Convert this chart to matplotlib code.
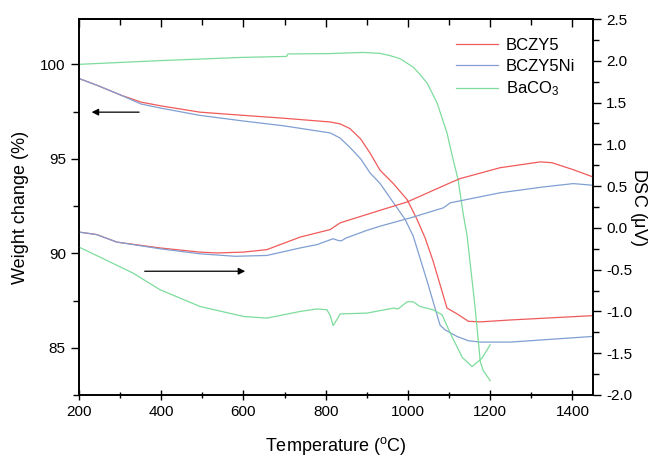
import matplotlib
matplotlib.use("Agg")
import matplotlib.pyplot as plt
from matplotlib.ticker import MultipleLocator

plt.rcParams["font.family"] = ["Liberation Sans", "DejaVu Sans"]
plt.rcParams["mathtext.default"] = "regular"

# TGA (weight change, %) - left axis
red_tga_t = [200, 243, 302, 351, 400, 494, 600, 697, 811, 835, 859, 885, 908, 932,
             964, 998, 1022, 1042, 1061, 1095, 1119, 1147, 1176, 1249, 1450]
red_tga_w = [99.25, 98.9, 98.37, 98.0, 97.8, 97.47, 97.3, 97.15, 96.95, 96.85, 96.6,
             96.05, 95.3, 94.4, 93.7, 92.84, 91.8, 90.8, 89.6, 87.1, 86.8, 86.4,
             86.37, 86.47, 86.7]

blue_tga_t = [200, 243, 302, 351, 400, 494, 600, 697, 811, 835, 859, 885, 908, 932,
              964, 993, 1013, 1047, 1078, 1090, 1119, 1147, 1176, 1249, 1450]
blue_tga_w = [99.25, 98.9, 98.37, 97.9, 97.68, 97.3, 97.0, 96.75, 96.37, 96.1, 95.6,
              95.0, 94.25, 93.7, 92.7, 91.8, 90.9, 88.5, 86.2, 85.95, 85.6, 85.37,
              85.3, 85.3, 85.6]

green_tga_t = [200, 300, 400, 600, 705, 708, 811, 860, 891, 932, 955, 981, 1013, 1030,
               1047, 1071, 1095, 1110, 1122, 1134, 1144, 1163, 1176, 1183, 1200]
green_tga_w = [100.0, 100.1, 100.2, 100.37, 100.42, 100.55, 100.57, 100.61, 100.63,
               100.58, 100.47, 100.3, 99.85, 99.45, 99.0, 97.95, 96.37, 94.95, 93.9,
               92.15, 90.9, 87.2, 84.26, 83.8, 83.26]

# DSC (uV) - right axis
red_dsc_t = [200, 243, 292, 397, 494, 536, 600, 657, 738, 811, 835, 932, 998, 1030,
             1103, 1127, 1224, 1322, 1350, 1400, 1450]
red_dsc_v = [-0.05, -0.08, -0.17, -0.24, -0.29, -0.30, -0.29, -0.26, -0.11, -0.02,
             0.06, 0.21, 0.31, 0.38, 0.54, 0.59, 0.72, 0.79, 0.78, 0.70, 0.61]

blue_dsc_t = [200, 243, 292, 397, 494, 580, 657, 738, 779, 818, 830, 838, 850, 900,
              932, 1013, 1086, 1103, 1224, 1329, 1402, 1450]
blue_dsc_v = [-0.05, -0.08, -0.17, -0.25, -0.31, -0.34, -0.33, -0.24, -0.20, -0.13,
              -0.15, -0.155, -0.12, -0.03, 0.02, 0.13, 0.24, 0.30, 0.42, 0.49, 0.53, 0.51]

green_dsc_t = [200, 251, 331, 397, 494, 600, 657, 738, 779, 803, 811, 818, 827, 835,
               900, 965, 976, 998, 1013, 1029, 1061, 1083, 1103, 1132, 1156, 1168,
               1180, 1200]
green_dsc_v = [-0.23, -0.35, -0.54, -0.74, -0.94, -1.06, -1.08, -1.0, -0.97, -0.98,
               -1.05, -1.17, -1.1, -1.03, -1.02, -0.96, -0.97, -0.885, -0.885, -0.94,
               -0.98, -1.04, -1.26, -1.55, -1.66, -1.61, -1.56, -1.40]

red = "#f05a5a"
blue = "#809fd2"
green = "#7ddc9c"
lw = 0.9

fig = plt.figure(figsize=(6.55, 4.57), dpi=100)
ax = fig.add_axes([0.1206, 0.1357, 0.7847, 0.8227])
ax2 = ax.twinx()

l1, = ax.plot(red_tga_t, red_tga_w, color=red, lw=lw)
l2, = ax.plot(blue_tga_t, blue_tga_w, color=blue, lw=lw)
l3, = ax.plot(green_tga_t, green_tga_w, color=green, lw=lw)

ax2.plot(red_dsc_t, red_dsc_v, color=red, lw=lw)
ax2.plot(blue_dsc_t, blue_dsc_v, color=blue, lw=lw)
ax2.plot(green_dsc_t, green_dsc_v, color=green, lw=lw)

ax.set_xlim(200, 1450)
ax.set_ylim(82.5, 102.4)
ax2.set_ylim(-2.0, 2.5)

ax.xaxis.set_major_locator(MultipleLocator(200))
ax.xaxis.set_minor_locator(MultipleLocator(100))
ax.yaxis.set_major_locator(MultipleLocator(5))
ax.yaxis.set_minor_locator(MultipleLocator(2.5))
ax2.yaxis.set_major_locator(MultipleLocator(0.5))
ax2.yaxis.set_minor_locator(MultipleLocator(0.25))
ax2.yaxis.set_major_formatter(plt.FormatStrFormatter("%.1f"))

ax.tick_params(axis="x", which="major", direction="inout", length=7, width=1, labelsize=11)
ax.tick_params(axis="x", which="minor", direction="inout", length=5, width=1)
ax.tick_params(axis="y", which="major", direction="out", length=6, width=1, labelsize=11)
ax.tick_params(axis="y", which="minor", direction="out", length=4, width=1)
ax2.tick_params(axis="y", which="major", direction="out", length=6, width=1, labelsize=11)
ax2.tick_params(axis="y", which="minor", direction="out", length=4, width=1)

top = ax.secondary_xaxis("top")
top.xaxis.set_major_locator(MultipleLocator(200))
top.xaxis.set_minor_locator(MultipleLocator(100))
top.tick_params(which="major", direction="in", length=6, width=1, labeltop=False)
top.tick_params(which="minor", direction="in", length=4, width=1)

for a in (ax, ax2):
    for s in a.spines.values():
        s.set_linewidth(1.2)
top.spines["top"].set_linewidth(1.2)

ax.set_xlabel("Temperature ($^{o}$C)", fontsize=13, labelpad=12)
ax.set_ylabel("Weight change (%)", fontsize=13, labelpad=8)
ax2.set_ylabel("DSC ($\\mu$V)", fontsize=13, rotation=270, labelpad=12)

ax.annotate("", xy=(224, 97.47), xytext=(353, 97.47),
            arrowprops=dict(arrowstyle="-|>", color="black", lw=0.9, mutation_scale=10))
ax.annotate("", xy=(611, 89.05), xytext=(353, 89.05),
            arrowprops=dict(arrowstyle="-|>", color="black", lw=0.9, mutation_scale=10))

ax2.legend([l1, l2, l3], ["BCZY5", "BCZY5Ni", "BaCO$_3$"], loc="upper right",
           bbox_to_anchor=(0.995, 0.99), frameon=False, fontsize=12,
           handlelength=2.5, handletextpad=0.5, labelspacing=0.35)

fig.savefig("out.png", dpi=100)
